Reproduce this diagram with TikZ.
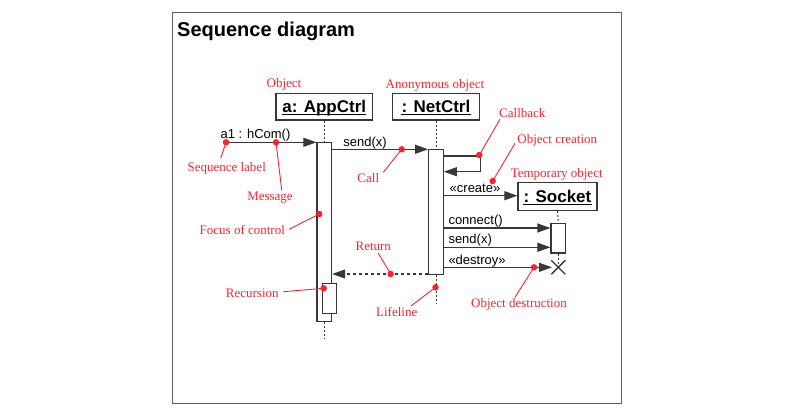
\documentclass[tikz,border=0pt]{standalone}
\usepackage{fontspec}
\setmainfont{Liberation Serif}
\setsansfont{Liberation Sans}
\usetikzlibrary{arrows.meta}
\definecolor{ann}{RGB}{250,35,45}
\definecolor{ln}{RGB}{55,55,55}
\begin{document}
\begin{tikzpicture}[x=1pt,y=-1pt,
 obj/.style={draw=ln,line width=1.3pt,fill=white,inner sep=0pt},
 objtext/.style={font=\sffamily\bfseries\fontsize{17}{17}\selectfont,inner sep=0pt,anchor=base},
 uline/.style={draw=black,line width=1.2pt},
 bar/.style={draw=ln,line width=1.1pt,fill=white,minimum width=14.7pt,inner sep=0pt},
 msg/.style={draw=ln,line width=1.1pt,-{Triangle[length=13pt,width=9pt]}},
 ret/.style={msg,dash pattern=on 3pt off 3pt},
 life/.style={draw=ln,line width=1pt,dash pattern=on 2pt off 2pt},
 lbl/.style={font=\sffamily\fontsize{13}{13}\selectfont,inner sep=0pt},
 note/.style={text=ann,font=\fontsize{13}{13}\selectfont,inner sep=0pt,anchor=base},
 pin/.style={draw=ann,line width=0.9pt},
 dot/.style={circle,fill=ann,inner sep=0pt,minimum size=6.5pt},
]
\useasboundingbox (0,0) rectangle (785,415);
\draw[draw=ln!80, line width=1pt] (172,12) rectangle (621,403);
\node[anchor=base west,inner sep=0pt,font=\sffamily\bfseries\fontsize{20}{20}\selectfont] (title) at (177,36) {Sequence diagram};

% objects
\node[obj,minimum width=96.6pt,minimum height=26.7pt] (app) at (324.3,106.7) {};
\node[obj,minimum width=86.7pt,minimum height=26.7pt] (net) at (436,106.7) {};
\node[obj,minimum width=79pt,minimum height=27.6pt] (sock) at (557.5,196.5) {};
\node[objtext] (appt) at (324.3,112.5) {a: AppCtrl};
\node[objtext] (nett) at (436,112.5) {: NetCtrl};
\node[objtext] (sockt) at (557.5,202.5) {: Socket};
\draw[uline] ([yshift=-2.2pt]appt.base west) -- ([yshift=-2.2pt]appt.base east);
\draw[uline] ([yshift=-2.2pt]nett.base west) -- ([yshift=-2.2pt]nett.base east);
\draw[uline] ([yshift=-2.2pt]sockt.base west) -- ([yshift=-2.2pt]sockt.base east);

% activation bars
\node[bar,minimum height=178.7pt] (appbar) at (324.3,231.7) {};
\node[bar,minimum width=14.4pt,minimum height=30pt] (rec) at (329.5,298.3) {};
\node[bar,minimum height=124.7pt] (netbar) at (436,211.7) {};
\node[bar,minimum height=29.3pt] (sockbar) at (558.3,238.3) {};

\coordinate (append) at (324.3,338);
\coordinate (netend) at (436,303);
\coordinate (xmark) at (558.3,267.3);

% lifelines
\draw[life] (app.south) -- (appbar.north);
\draw[life] (appbar.south) -- (append);
\draw[life] (net.south) -- (netbar.north);
\draw[life] (netbar.south) -- (netend);
\draw[life] (sock.south) -- (sockbar.north);
\draw[life] (sockbar.south) -- (xmark);
\draw[draw=ln,line width=1.4pt] (xmark) +(-7,-7) -- +(7,7) +(-7,7) -- +(7,-7);

% messages
\coordinate (s0) at (226,142.3);
\draw[msg] (s0) -- (s0 -| appbar.west);
\draw[msg] (appbar.east |- 0,149.3) -- (netbar.west |- 0,149.3);
\draw[msg] (netbar.east |- 0,156) -| (480.3,171.7) -- (netbar.east |- 0,171.7);
\draw[msg] (netbar.east |- 0,195.7) -- (sock.west |- 0,195.7);
\draw[msg] (netbar.east |- 0,228) -- (sockbar.west |- 0,228);
\draw[msg] (netbar.east |- 0,247.3) -- (sockbar.west |- 0,247.3);
\draw[msg] (netbar.east |- 0,267.3) -- (xmark -| 552,0);
\draw[ret] (netbar.west |- 0,274) -- (appbar.east |- 0,274);

\node[lbl,anchor=base] (l1) at (255.5,138) {a1 : hCom()};
\node[lbl,anchor=base] (l2) at (365,146) {send(x)};
\node[lbl,anchor=base] (l3) at (475,192.5) {«create»};
\node[lbl,anchor=base west] (l4) at (448.3,224.3) {connect()};
\node[lbl,anchor=base west] (l5) at (448.3,243.3) {send(x)};
\node[lbl,anchor=base west] (l6) at (448.3,264) {«destroy»};

% annotations
\node[note] (nObj) at (284,87.6) {Object};
\node[note] (nAnon) at (435,88.5) {Anonymous object};
\node[note] (nCb) at (522.3,117) {Callback};
\node[note] (nCr) at (557.3,143.6) {Object creation};
\node[note] (nTmp) at (556.7,177.6) {Temporary object};
\node[note] (nSeq) at (226.7,171.6) {Sequence label};
\node[note] (nMsg) at (270,200) {Message};
\node[note] (nCall) at (368.3,182.6) {Call};
\node[note] (nFoc) at (242.3,234.3) {Focus of control};
\node[note] (nRet) at (373.3,250.3) {Return};
\node[note] (nRec) at (252.3,297) {Recursion};
\node[note] (nLife) at (396.7,316.6) {Lifeline};
\node[note] (nDes) at (519,307.6) {Object destruction};

\node[dot] (dCb) at (479.3,155) {};
\node[dot] (dCr) at (492.7,181) {};
\node[dot] (dSeq) at (226,142.3) {};
\node[dot] (dMsg) at (276,142.3) {};
\node[dot] (dCall) at (401.7,149.3) {};
\node[dot] (dFoc) at (319.3,214) {};
\node[dot] (dRet) at (390.7,274) {};
\node[dot] (dRec) at (323.7,288.3) {};
\node[dot] (dLife) at (435.5,287.3) {};
\node[dot] (dDes) at (534,267.3) {};

\draw[pin] (dCb.center) -- (500,119.3);
\draw[pin] (dCr.center) -- (515,143.3);
\draw[pin] (dSeq.center) -- (220.7,158.3);
\draw[pin] (dMsg.center) -- (281.7,190);
\draw[pin] (dCall.center) -- (383.3,172.3);
\draw[pin] (dFoc.center) -- (289,229.3);
\draw[pin] (dRet.center) -- (378.3,253.3);
\draw[pin] (dRec.center) -- (283.3,291.7);
\draw[pin] (dLife.center) -- (411,306);
\draw[pin] (dDes.center) -- (515,297.3);
\end{tikzpicture}
\end{document}
